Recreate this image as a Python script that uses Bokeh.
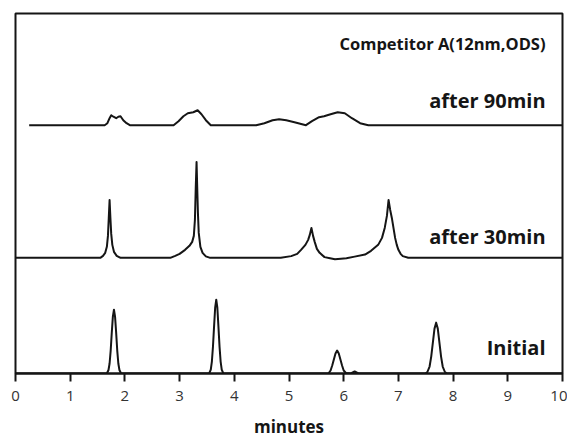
from bokeh.plotting import figure
from bokeh.models import Range1d, FixedTicker, Label, ColumnDataSource
from bokeh.embed import file_html
from bokeh.resources import INLINE

# ---- data (time in minutes, detector signal in arbitrary units) ----
init_t = [0, 1.67, 1.70, 1.72, 1.74, 1.76, 1.78, 1.80, 1.82, 1.84, 1.86, 1.88, 1.90, 1.93,
          3.54, 3.57, 3.59, 3.61, 3.63, 3.65, 3.67, 3.69, 3.71, 3.73, 3.75, 3.77, 3.80,
          5.72, 5.76, 5.79, 5.82, 5.85, 5.88, 5.91, 5.94, 5.97, 6.00, 6.04, 6.13, 6.20, 6.27,
          7.49, 7.53, 7.57, 7.60, 7.63, 7.66, 7.69, 7.72, 7.75, 7.78, 7.81, 7.85, 7.89, 10]
init_s = [0, 0, 3.5, 10, 23, 41, 57, 64, 57, 41, 23, 10, 3.5, 0,
          0, 4, 12, 27, 47, 66, 74, 66, 47, 27, 12, 4, 0,
          0, 3, 8, 14, 20, 23, 20, 14, 8, 3, 0.5, 0, 2, 0,
          0, 1.5, 7, 17, 31, 45, 51, 45, 31, 17, 7, 1.5, 0, 0]

t30_t = [0, 1.55, 1.60, 1.64, 1.67, 1.69, 1.705, 1.72, 1.735, 1.75, 1.77, 1.80, 1.85, 1.92,
         2.83, 2.92, 3.00, 3.10, 3.18, 3.23, 3.26, 3.28, 3.295, 3.31, 3.32, 3.335, 3.35, 3.38, 3.42, 3.48, 3.56,
         4.85, 5.04, 5.15, 5.22, 5.30, 5.35, 5.38, 5.41, 5.44, 5.47, 5.51, 5.56, 5.65, 5.75, 5.84, 5.95, 6.05,
         6.20, 6.39, 6.50, 6.63, 6.70, 6.75, 6.79, 6.82, 6.85, 6.88, 6.91, 6.94, 6.97, 7.00, 7.04, 7.08, 7.18, 10]
t30_s = [0, 0, 2, 5, 11, 22, 40, 58, 40, 24, 13, 6, 2, 0,
         0, 2, 4, 8, 12, 16, 22, 38, 70, 96, 75, 45, 25, 11, 5, 1.5, 0,
         0, 1.7, 4, 8, 13, 18, 23, 30, 22, 16, 9, 5, 0.7, -0.5, -1.5, -1, -0.5,
         1.2, 3.3, 7, 13, 20, 30, 42, 58, 48, 40, 30, 20, 13, 8, 4, 1.7, 0, 0]

t90_t = [0.25, 1.63, 1.68, 1.72, 1.75, 1.79, 1.84, 1.88, 1.92, 1.97, 2.03, 2.09,
         2.89, 2.98, 3.07, 3.15, 3.25, 3.33, 3.40, 3.48, 3.57,
         4.40, 4.55, 4.70, 4.82, 4.95, 5.10, 5.31, 5.42, 5.55, 5.64, 5.76, 5.89, 6.02, 6.15, 6.30, 6.45, 10]
t90_s = [0, 0, 2, 7, 10, 8.5, 7, 8.5, 9, 5, 2, 0,
         0, 4, 9, 12, 13, 15, 11, 5, 0,
         0, 2, 5, 6, 5, 3, 0, 4, 8, 9, 11, 13, 12, 7, 2, 0, 0]

tick_values = [0, 1, 2, 3, 4, 5, 6, 7, 8, 9, 10]
trace_labels = ["Initial", "after 30min", "after 90min"]
title_text = "Competitor A(12nm,ODS)"
x_label = "minutes"

# ---- layout constants (vertical stacking of the traces) ----
offsets = [0, 116, 249]
label_y = [26, 137, 274]

FONT = "Open Sans"
INK = "#151515"

p = figure(width=567, height=440, output_backend="svg", toolbar_location=None,
           x_range=Range1d(0, 10), y_range=Range1d(0, 361),
           y_axis_location=None, min_border_left=15, min_border_right=5,
           min_border_top=13, min_border_bottom=66)
p.grid.visible = False
p.outline_line_color = INK
p.outline_line_width = 2
p.background_fill_color = "white"
p.border_fill_color = "white"

series = [(init_t, init_s), (t30_t, t30_s), (t90_t, t90_s)]
for (tt, ss), off in zip(series, offsets):
    src = ColumnDataSource(dict(t=tt, y=[v + off for v in ss]))
    p.line("t", "y", source=src, line_color=INK, line_width=2, line_join="round")

ax = p.xaxis[0]
ax.ticker = FixedTicker(ticks=tick_values)
ax.axis_line_width = 2
ax.axis_line_color = INK
ax.major_tick_line_width = 2
ax.major_tick_line_color = INK
ax.major_tick_out = 8
ax.major_tick_in = 0
ax.minor_tick_out = 0
ax.minor_tick_in = 0
ax.major_label_text_font = FONT
ax.major_label_text_font_size = "15px"
ax.major_label_text_color = "#333333"
ax.major_label_standoff = 9
ax.axis_label = x_label
ax.axis_label_text_font = FONT
ax.axis_label_text_font_size = "17px"
ax.axis_label_text_font_style = "bold"
ax.axis_label_text_color = INK
ax.axis_label_standoff = 11

for txt, ly in zip(trace_labels, label_y):
    p.add_layout(Label(x=9.69, y=ly, text=txt, text_align="right", text_baseline="alphabetic",
                       text_font=FONT, text_font_size="20px", text_font_style="bold",
                       text_color=INK))
p.add_layout(Label(x=9.69, y=331, text=title_text, text_align="right", text_baseline="alphabetic",
                   text_font=FONT, text_font_size="16.5px", text_font_style="bold",
                   text_color=INK))

open("out.html", "w").write(file_html(p, INLINE))
